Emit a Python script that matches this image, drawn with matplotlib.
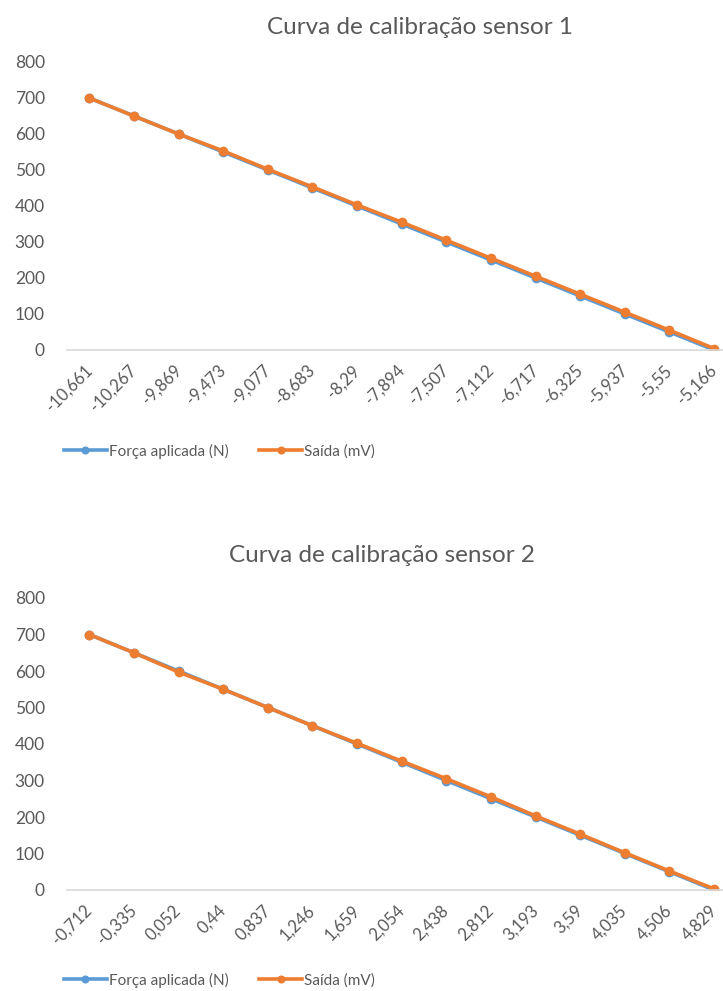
import matplotlib
matplotlib.use("Agg")
import matplotlib.pyplot as plt
from matplotlib.transforms import ScaledTranslation
import numpy as np

plt.rcParams['font.family'] = ['Lato', 'DejaVu Sans']

# dados do sensor 1
labels_1 = ['-10,661', '-10,267', '-9,869', '-9,473', '-9,077', '-8,683', '-8,29',
            '-7,894', '-7,507', '-7,112', '-6,717', '-6,325', '-5,937', '-5,55', '-5,166']
forca_1 = [700, 650, 600, 550, 500, 450, 400, 350, 300, 250, 200, 150, 100, 50, 0]
saida_1 = [700, 650, 600, 553, 502, 453, 403, 355, 305, 255, 205, 155, 105, 55, 4]

# dados do sensor 2
labels_2 = ['-0,712', '-0,335', '0,052', '0,44', '0,837', '1,246', '1,659', '2,054',
            '2,438', '2,812', '3,193', '3,59', '4,035', '4,506', '4,829']
forca_2 = [700, 650, 600, 550, 500, 450, 400, 350, 300, 250, 200, 150, 100, 50, 0]
saida_2 = [700, 650, 597, 550, 500, 450, 402, 353, 305, 255, 203, 153, 102, 52, 3]

W, H = 723, 991
fig = plt.figure(figsize=(W / 100, H / 100), dpi=100)

azul = '#5B9BD5'
laranja = '#ED7D31'
cinza = '#595959'


def grafico(y0_px, y800_px, labels, forca, saida, titulo, tit_x, tit_y, leg_y):
    left = 67 / W
    right = 723 / W
    ax = fig.add_axes([left, 1 - y0_px / H, right - left, (y0_px - y800_px) / H])
    x = np.arange(len(labels))
    ax.plot(x, forca, color=azul, lw=2.6, marker='o', ms=6, label='Força aplicada (N)')
    ax.plot(x, saida, color=laranja, lw=2.6, marker='o', ms=6, label='Saída (mV)')
    ax.set_xlim(-0.5, 14.2)
    ax.set_ylim(0, 800)
    ax.set_yticks(np.arange(0, 801, 100))
    ax.set_xticks(x)
    ax.set_xticklabels(labels, rotation=45, ha='right', va='center', rotation_mode='anchor')
    desloc = ScaledTranslation(0.05, -0.03, fig.dpi_scale_trans)
    for t in ax.get_xticklabels():
        t.set_transform(t.get_transform() + desloc)
    for s in ['top', 'right', 'left']:
        ax.spines[s].set_visible(False)
    ax.spines['bottom'].set_color('#D9D9D9')
    ax.spines['bottom'].set_linewidth(1.2)
    ax.tick_params(axis='y', length=0, pad=16, labelsize=12.5, labelcolor=cinza)
    ax.tick_params(axis='x', length=0, pad=13, labelsize=12, labelcolor=cinza)
    fig.text(tit_x / W, 1 - tit_y / H, titulo, ha='center', va='center',
             fontsize=17.5, color=cinza)
    h, l = ax.get_legend_handles_labels()
    fig.legend(h, l, loc='center left', bbox_to_anchor=(50 / W, 1 - leg_y / H), ncol=2,
               frameon=False, fontsize=11, handlelength=2.8, handletextpad=0.15,
               columnspacing=2.0, labelcolor=cinza, markerscale=0.8)
    return ax


grafico(350, 62, labels_1, forca_1, saida_1, 'Curva de calibração sensor 1', 420, 27, 451)
grafico(890, 598, labels_2, forca_2, saida_2, 'Curva de calibração sensor 2', 382, 556, 980)

fig.savefig('out.png', dpi=100)
